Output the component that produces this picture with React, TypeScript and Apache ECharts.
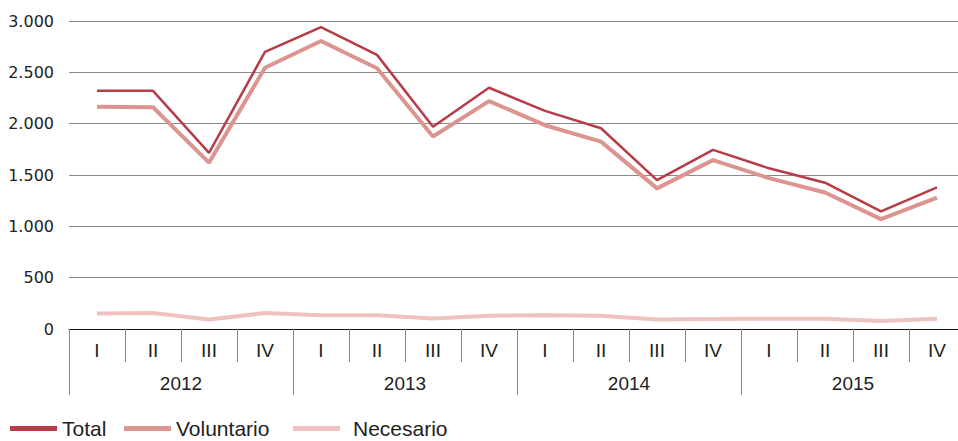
import React, { useEffect, useRef } from "react";
import * as echarts from "echarts";

const quarters = ["I", "II", "III", "IV", "I", "II", "III", "IV", "I", "II", "III", "IV", "I", "II", "III", "IV"];
const years = ["2012", "2013", "2014", "2015"];
const total = [2320, 2320, 1715, 2700, 2940, 2670, 1970, 2350, 2125, 1955, 1450, 1745, 1565, 1425, 1145, 1380];
const voluntario = [2165, 2160, 1620, 2545, 2805, 2540, 1875, 2220, 1985, 1825, 1370, 1645, 1470, 1330, 1070, 1280];
const necesario = [152, 155, 92, 155, 135, 135, 102, 130, 135, 130, 92, 97, 100, 100, 78, 100];

const FONT = "'Liberation Sans', Arial, sans-serif";
const YFONT = "'DejaVu Sans', sans-serif";

const legendBase = {
  top: 418,
  padding: 0,
  icon: "rect",
  itemWidth: 47,
  itemHeight: 5,
  textStyle: { fontSize: 21, lineHeight: 20, color: "#222", fontFamily: FONT },
};

export default function App() {
  const ref = useRef<HTMLDivElement>(null);
  useEffect(() => {
    if (!ref.current) return;
    const chart = echarts.init(ref.current, null, { renderer: "svg" });
    chart.setOption({
      animation: false,
      textStyle: { fontFamily: FONT },
      grid: { left: 69, top: 21, width: 896, bottom: 112, containLabel: false, outerBoundsMode: "none" },
      legend: [
        { ...legendBase, left: 10, data: ["Total"] },
        { ...legendBase, left: 124, data: ["Voluntario"] },
        {
          ...legendBase,
          left: 293,
          data: ["Necesario"],
          formatter: (name: string) => "{a|" + name + "}",
          textStyle: {
            ...legendBase.textStyle,
            rich: { a: { padding: [0, 0, 0, 8], fontSize: 21, lineHeight: 20, color: "#222", fontFamily: FONT } },
          },
        },
      ],
      xAxis: [
        {
          type: "category",
          data: quarters,
          boundaryGap: true,
          axisLine: { show: true, lineStyle: { color: "#111", width: 1 } },
          axisTick: { show: true, length: 33, interval: 0, lineStyle: { color: "#888" } },
          axisLabel: { interval: 0, margin: 12, fontSize: 19, color: "#222", fontFamily: FONT },
        },
        {
          type: "category",
          data: years,
          position: "bottom",
          boundaryGap: true,
          axisLine: { show: false },
          axisTick: { show: true, length: 66, interval: 0, lineStyle: { color: "#888" } },
          axisLabel: { interval: 0, margin: 45, fontSize: 19, color: "#222", fontFamily: FONT },
        },
      ],
      yAxis: {
        type: "value",
        min: 0,
        max: 3000,
        interval: 500,
        axisLine: { show: false },
        axisTick: { show: false },
        splitLine: { show: true, lineStyle: { color: "#8a8a8a", width: 1 } },
        axisLabel: {
          margin: 15,
          fontSize: 16,
          color: "#222",
          fontFamily: YFONT,
          formatter: (v: number) => v.toLocaleString("de-DE"),
        },
      },
      series: [
        {
          name: "Necesario",
          type: "line",
          data: necesario,
          showSymbol: false,
          symbol: "none",
          lineStyle: { color: "#eec3bf", width: 4 },
          itemStyle: { color: "#eec3bf" },
        },
        {
          name: "Voluntario",
          type: "line",
          data: voluntario,
          showSymbol: false,
          symbol: "none",
          lineStyle: { color: "#dc9490", width: 4 },
          itemStyle: { color: "#dc9490" },
        },
        {
          name: "Total",
          type: "line",
          data: total,
          showSymbol: false,
          symbol: "none",
          lineStyle: { color: "#b83c48", width: 2.5 },
          itemStyle: { color: "#b83c48" },
        },
      ],
    });
    return () => chart.dispose();
  }, []);
  return <div ref={ref} style={{ width: 958, height: 441, position: "absolute", left: 0, top: 0 }} />;
}
